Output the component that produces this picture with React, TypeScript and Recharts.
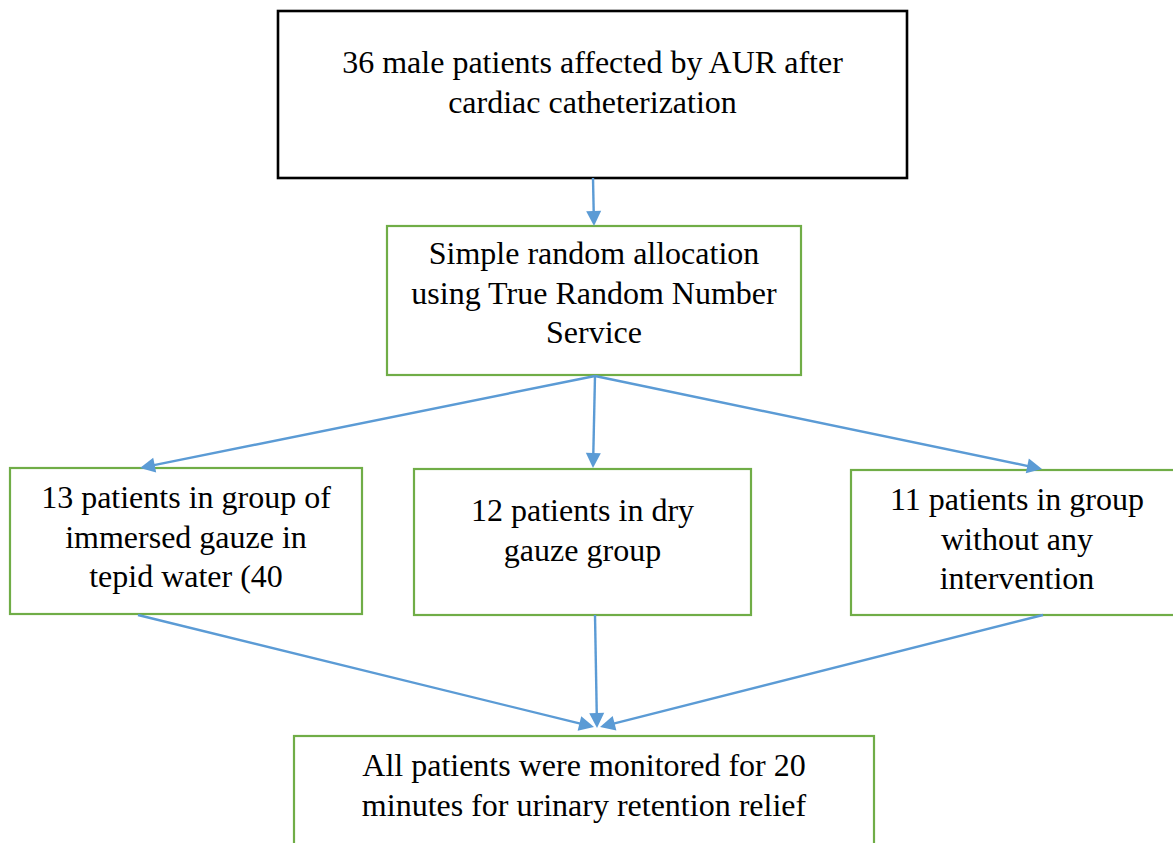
import { ComposedChart, XAxis, YAxis, ReferenceArea, ReferenceLine } from "recharts"

const W = 1173
const H = 843

// flowchart content
const nodeLabels = [
  ["36 male patients affected by AUR after", "cardiac catheterization"],
  ["Simple random allocation", "using True Random Number", "Service"],
  ["13 patients in group of", "immersed gauze in", "tepid water (40"],
  ["12 patients in dry", "gauze group"],
  ["11 patients in group", "without any", "intervention"],
  ["All patients were monitored for 20", "minutes for urinary retention relief"],
]
const nodeBorders = ["#000000", "#70AD47", "#70AD47", "#70AD47", "#70AD47", "#70AD47"]

// layout of the boxes: x1, x2, y1, y2, first baseline below top
const nodeLayout = [
  [278, 907, 11, 178, 62],
  [387, 801, 226, 375, 38],
  [10, 362, 468, 614, 40],
  [414, 751, 469, 615, 52],
  [851, 1183, 470, 615, 40],
  [294, 874, 736, 880, 40],
]

// arrows: from x, from y, to x, to y
const edgeLayout = [
  [593, 178, 594, 226],
  [595, 376, 140, 468],
  [595, 376, 593, 468],
  [595, 376, 1042, 469],
  [138, 615, 594, 727],
  [595, 615, 597, 728],
  [1043, 615, 600, 727],
]

const FONT = "'Liberation Serif', 'Times New Roman', 'DejaVu Serif', serif"
const LINE_H = 39.5

const Box = (p: any) => {
  const { x, y, width, height, lines, stroke, first } = p
  const cx = x + width / 2
  return (
    <g>
      <rect x={x} y={y} width={width} height={height} fill="none" stroke={stroke} strokeWidth={stroke === "#000000" ? 2.6 : 2.2} />
      <text textAnchor="middle" fontFamily={FONT} fontSize={32} fill="#000" style={{ fontFamily: FONT }}>
        {lines.map((t: string, i: number) => (
          <tspan key={i} x={cx} y={y + first + i * LINE_H}>
            {t}
          </tspan>
        ))}
      </text>
    </g>
  )
}

const Arrow = (p: any) => {
  const { x1, y1, x2, y2 } = p
  const dx = x2 - x1
  const dy = y2 - y1
  const len = Math.hypot(dx, dy)
  const ux = dx / len
  const uy = dy / len
  const L = 15
  const hw = 7.5
  const bx = x2 - ux * L
  const by = y2 - uy * L
  const pts = `${x2},${y2} ${bx - uy * hw},${by + ux * hw} ${bx + uy * hw},${by - ux * hw}`
  return (
    <g>
      <line x1={x1} y1={y1} x2={bx + ux * 2} y2={by + uy * 2} stroke="#5B9BD5" strokeWidth={2.4} />
      <polygon points={pts} fill="#5B9BD5" />
    </g>
  )
}

export default function App() {
  return (
    <div style={{ position: "absolute", left: 0, top: 0, width: W, height: H, background: "#fff", fontFamily: FONT }}>
      <ComposedChart width={W} height={H} margin={{ top: 0, right: 0, bottom: 0, left: 0 }}>
        <XAxis type="number" dataKey="x" domain={[0, W]} hide allowDataOverflow />
        <YAxis type="number" dataKey="y" domain={[0, H]} reversed hide allowDataOverflow />
        {nodeLayout.map((b, i) => (
          <ReferenceArea
            key={"n" + i}
            x1={b[0]}
            x2={b[1]}
            y1={b[2]}
            y2={b[3]}
            ifOverflow="visible"
            shape={(props: any) => <Box {...props} lines={nodeLabels[i]} stroke={nodeBorders[i]} first={b[4]} />}
          />
        ))}
        {edgeLayout.map((e, i) => (
          <ReferenceLine
            key={"e" + i}
            segment={[{ x: e[0], y: e[1] }, { x: e[2], y: e[3] }]}
            ifOverflow="visible"
            shape={(props: any) => <Arrow {...props} />}
          />
        ))}
      </ComposedChart>
    </div>
  )
}
